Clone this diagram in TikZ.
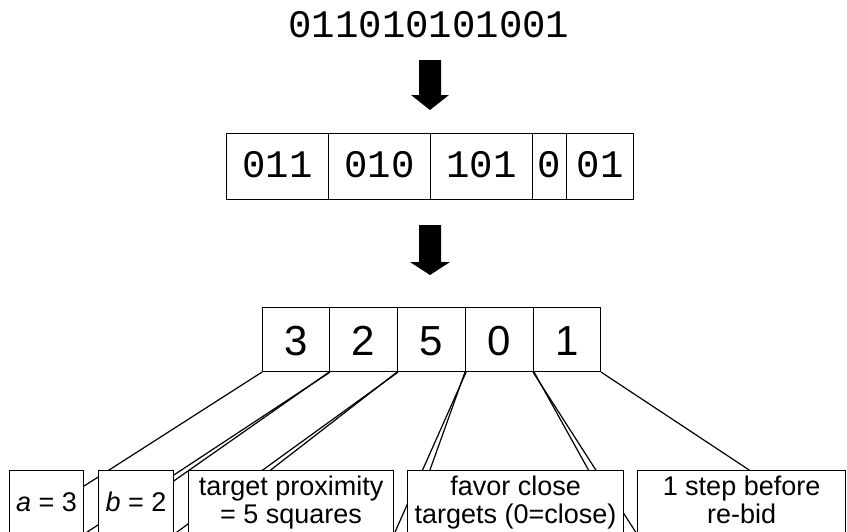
\documentclass[tikz,border=0pt]{standalone}
\usepackage{fontspec}
\setmainfont{Liberation Sans}
\newfontfamily\monofam{Liberation Mono}
\pgfdeclarelayer{bg}
\pgfsetlayers{bg,main}
\begin{document}
\begin{tikzpicture}[x=1pt,y=-1pt,
  monotext/.style={font=\monofam\fontsize{39}{44}\selectfont},
  bitcell/.style={draw, line width=1.1pt, inner sep=0pt, anchor=north west,
    minimum height=66pt, text height=22pt, text depth=0pt, monotext},
  numcell/.style={draw, line width=1.1pt, inner sep=0pt, anchor=north west,
    minimum height=64pt, text height=32pt, text depth=0pt, font=\fontsize{42}{46}\selectfont},
  labelbox/.style={draw, fill=white, line width=1.1pt, inner sep=0pt, anchor=north west,
    minimum height=63pt, align=center, font=\fontsize{27}{28}\selectfont},
  fan/.style={line width=1.2pt},
  blockarrow/.style={fill=black}
]
\clip (0,0) rectangle (847,531);

% title string
\node[monotext, anchor=base, inner sep=0pt] (title) at (429,37) {011010101001};

% first block arrow
\coordinate (arrA) at (430,60);
\fill[blockarrow] (arrA) ++(-11,0) -- ++(22,0) -- ++(0,35) -- ++(8,0) -- ++(-19,15)
  -- ++(-19,-15) -- ++(8,0) -- cycle;

% grouped bits
\node[bitcell, minimum width=102pt] (g1) at (226,133) {011};
\node[bitcell, minimum width=102pt] (g2) at (328,133) {010};
\node[bitcell, minimum width=102pt] (g3) at (430,133) {101};
\node[bitcell, minimum width=34pt]  (g4) at (532,133) {0};
\node[bitcell, minimum width=67pt]  (g5) at (566,133) {01};

% second block arrow
\coordinate (arrB) at (430,225);
\fill[blockarrow] (arrB) ++(-11,0) -- ++(22,0) -- ++(0,37) -- ++(9,0) -- ++(-20,13)
  -- ++(-20,-13) -- ++(9,0) -- cycle;

% decoded values
\node[numcell, minimum width=67pt] (c1) at (262,307) {3};
\node[numcell, minimum width=68pt] (c2) at (329,307) {2};
\node[numcell, minimum width=68pt] (c3) at (397,307) {5};
\node[numcell, minimum width=68pt] (c4) at (465,307) {0};
\node[numcell, minimum width=67pt] (c5) at (533,307) {1};

% meaning boxes
\node[labelbox, minimum width=74pt]  (ba) at (9,470)   {\textit{a} = 3};
\node[labelbox, minimum width=75pt]  (bb) at (98,470)  {\textit{b} = 2};
\node[labelbox, minimum width=205pt] (bc) at (188,470) {target proximity\\= 5 squares};
\node[labelbox, minimum width=216pt] (bd) at (407,470) {favor close\\targets (0=close)};
\node[labelbox, minimum width=208pt] (be) at (637,470) {1 step before\\re-bid\vphantom{p}};

% fan-out connectors behind the boxes
\begin{pgfonlayer}{bg}
  \draw[fan] (c1.south west) -- (ba.south west);
  \draw[fan] (c1.south east) -- (ba.south east);
  \draw[fan] (c2.south west) -- (bb.south west);
  \draw[fan] (c2.south east) -- (bb.south east);
  \draw[fan] (c3.south west) -- (bc.south west);
  \draw[fan] (c3.south east) -- (bc.south east);
  \draw[fan] (c4.south west) -- (bd.south west);
  \draw[fan] (c4.south east) -- (bd.south east);
  \draw[fan] (c5.south west) -- (be.south west);
  \draw[fan] (c5.south east) -- (be.south east);
\end{pgfonlayer}
\end{tikzpicture}
\end{document}
